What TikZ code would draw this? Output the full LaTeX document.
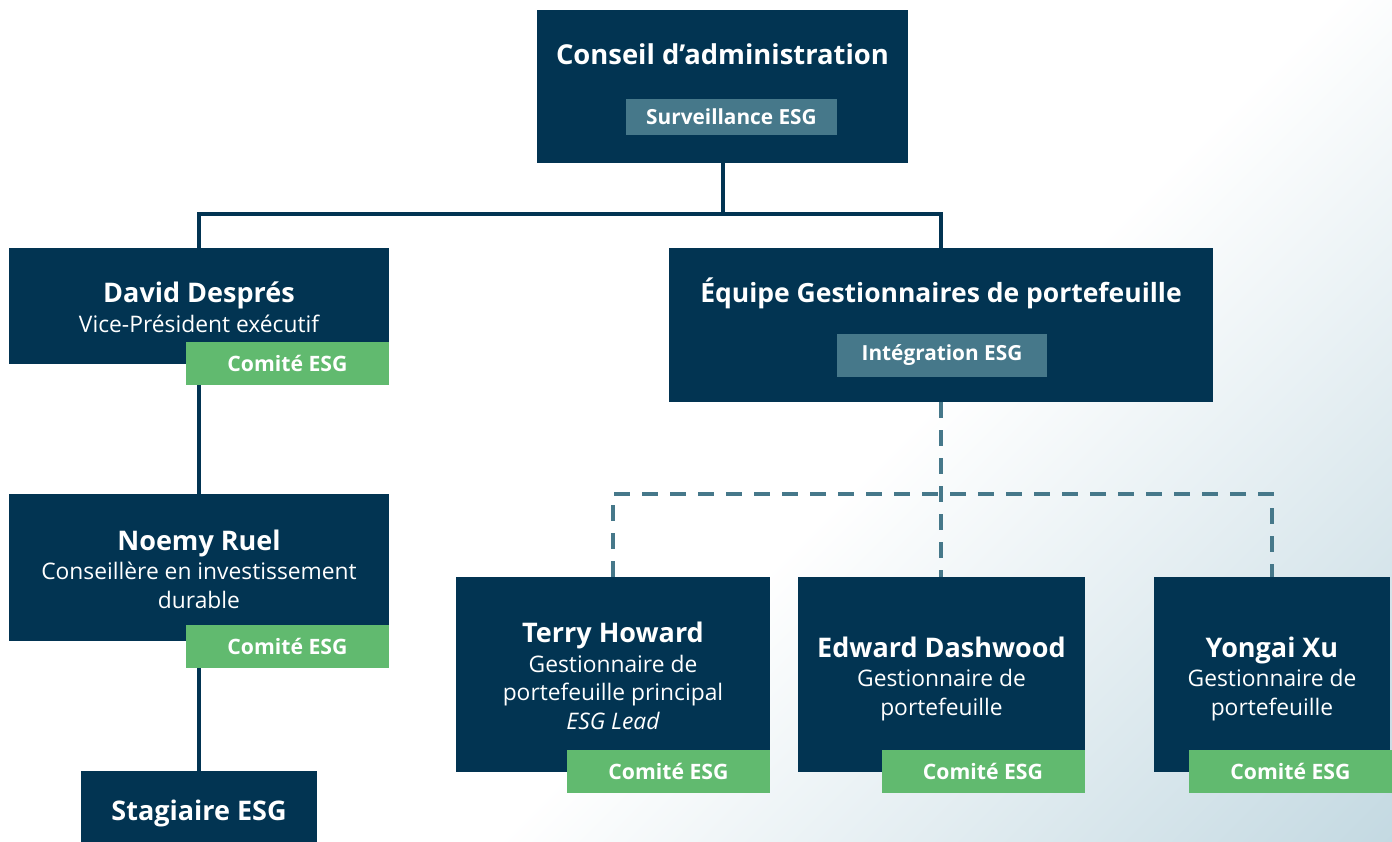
\documentclass[tikz,border=0pt]{standalone}
\usepackage{fontspec}
\setmainfont{Open Sans}
\definecolor{navy}{RGB}{2,52,82}
\definecolor{slate}{RGB}{70,120,138}
\definecolor{leaf}{RGB}{97,186,111}
\definecolor{mist}{RGB}{166,198,211}
\pgfdeclarehorizontalshading{bgfade}{100bp}{color(0bp)=(white); color(57bp)=(white); color(100bp)=(mist)}
\newcommand{\comite}[2]{\node[leaftag, anchor=north east] (#1-esg) at ([yshift=#2pt]#1.south east) {Comité ESG}}

\begin{document}
\begin{tikzpicture}[x=1pt, y=-1pt,
    box/.style={fill=navy, inner sep=0pt},
    nametext/.style={anchor=base, text=white, font=\fontsize{27}{30}\selectfont\bfseries},
    subtext/.style={anchor=base, text=white, font=\fontsize{22.8}{26}\selectfont},
    slatetag/.style={fill=slate, text=white, inner sep=0pt, font=\fontsize{20.8}{24}\selectfont\bfseries},
    leaftag/.style={fill=leaf, text=white, inner sep=0pt, minimum width=203pt, minimum height=43pt, font=\fontsize{21.2}{24}\selectfont\bfseries},
    link/.style={navy, line width=4pt},
    dlink/.style={slate, line width=4pt, dash pattern=on 16pt off 12pt}]
  \useasboundingbox (0,0) rectangle (1392,842);
  \shade[shading=bgfade, shading angle=-45] (0,0) rectangle (1392,842);

  % boxes
  \node[box, minimum width=371pt, minimum height=153pt] (conseil) at (722.5,86.5) {};
  \node[box, minimum width=380pt, minimum height=116pt] (david) at (199,306) {};
  \node[box, minimum width=544pt, minimum height=154pt] (equipe) at (941,325) {};
  \node[box, minimum width=380pt, minimum height=147pt] (noemy) at (199,567.5) {};
  \node[box, minimum width=236pt, minimum height=76pt] (stagiaire) at (199,809) {};
  \node[box, minimum width=314pt, minimum height=195pt] (terry) at (613,674.5) {};
  \node[box, minimum width=286pt, minimum height=195pt] (edward) at (941.5,674.5) {};
  \node[box, minimum width=236pt, minimum height=195pt] (yongai) at (1272,674.5) {};

  % connectors
  \coordinate (split) at (722.5,214);
  \coordinate (dsplit) at (941,494);
  \draw[link] (conseil.south) -- (split) -| (david.north);
  \draw[link] (split) -| (equipe.north);
  \draw[link] (david.south) -- (noemy.north);
  \draw[link] (noemy.south) -- (stagiaire.north);
  \draw[dlink] (equipe.south) -- (equipe.south |- edward.north);
  \draw[dlink] (terry.north) |- (dsplit) -| (yongai.north);

  % boxes again on top of the connectors
  \foreach \b in {conseil,david,equipe,noemy,stagiaire,terry,edward,yongai}
    \fill[navy] (\b.north west) rectangle (\b.south east);

  % texts
  \node[nametext, font=\fontsize{27.4}{30}\selectfont\bfseries] (conseil-name) at (722.5,65) {Conseil d’administration};
  \node[slatetag, minimum width=211pt, minimum height=36pt] (conseil-tag) at (731.5,117) {Surveillance ESG};

  \node[nametext] (david-name) at (199,303) {David Després};
  \node[subtext] (david-0) at (199,332) {Vice-Président exécutif};
  \comite{david}{22};

  \node[nametext, font=\fontsize{26.5}{30}\selectfont\bfseries] (equipe-name) at (941,302) {Équipe Gestionnaires de portefeuille};
  \node[slatetag, minimum width=210pt, minimum height=43pt] (equipe-tag) at (942,355.5) {Intégration ESG};

  \node[nametext] (noemy-name) at (199,550) {Noemy Ruel};
  \foreach \t [count=\i from 0] in {Conseillère en investissement, durable}
    \node[subtext] (noemy-\i) at (199,579+29*\i) {\t};
  \comite{noemy}{16};

  \node[nametext] (stagiaire-name) at (199,820) {Stagiaire ESG};

  \node[nametext] (terry-name) at (613,642) {Terry Howard};
  \foreach \t [count=\i from 0] in {Gestionnaire de, portefeuille principal, \itshape ESG Lead}
    \node[subtext] (terry-\i) at (613,672+28.5*\i) {\t};
  \comite{terry}{22};

  \node[nametext] (edward-name) at (941.5,657) {Edward Dashwood};
  \foreach \t [count=\i from 0] in {Gestionnaire de, portefeuille}
    \node[subtext] (edward-\i) at (941.5,686+29*\i) {\t};
  \comite{edward}{22};

  \node[nametext] (yongai-name) at (1272,657) {Yongai Xu};
  \foreach \t [count=\i from 0] in {Gestionnaire de, portefeuille}
    \node[subtext] (yongai-\i) at (1272,686+29*\i) {\t};
  \node[leaftag, anchor=north east] (yongai-esg) at ([xshift=2pt,yshift=22pt]yongai.south east) {Comité ESG};
\end{tikzpicture}
\end{document}
